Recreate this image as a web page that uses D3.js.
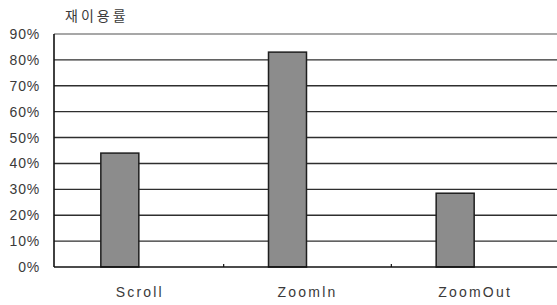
<!DOCTYPE html>
<html>
<head>
<meta charset="utf-8">
<script src="https://cdn.jsdelivr.net/npm/d3@7"></script>
<style>
  body { margin: 0; background: #fff; }
  text { font-family: "Liberation Sans", Arial, sans-serif; fill: #3a3a3a; }
</style>
</head>
<body>
<div id="container"></div>
<script>
const categories = ["Scroll", "ZoomIn", "ZoomOut"];
const labels = ["Scroll", "Zoomln", "ZoomOut"];
const values = [0.44, 0.83, 0.285];
const yTicks = [0, 0.1, 0.2, 0.3, 0.4, 0.5, 0.6, 0.7, 0.8, 0.9];
const title = "재이용률";

const width = 557, height = 305;
const margin = {top: 34, right: -2, bottom: 38, left: 56};

const svg = d3.select("#container").append("svg")
  .attr("width", width)
  .attr("height", height);

const x = d3.scaleBand()
  .domain(categories)
  .range([margin.left, width - margin.right])
  .padding(0);

const y = d3.scaleLinear()
  .domain([0, 0.9])
  .range([height - margin.bottom, margin.top]);

// gridlines
svg.append("g")
  .selectAll("line")
  .data(yTicks.filter(d => d > 0))
  .enter().append("line")
  .attr("x1", margin.left - 2)
  .attr("x2", width)
  .attr("y1", d => y(d))
  .attr("y2", d => y(d))
  .attr("stroke", d => d === 0.9 ? "#8a8a8a" : "#2e2e2e")
  .attr("stroke-width", 1.4);

// y labels
svg.append("g")
  .selectAll("text")
  .data(yTicks)
  .enter().append("text")
  .attr("x", 40)
  .attr("y", d => y(d))
  .attr("dy", "0.36em")
  .attr("text-anchor", "end")
  .style("font-size", "14px")
  .style("letter-spacing", "0.8px")
  .text(d3.format(".0%"));

// bars (offset left of band centre like the original)
const barW = 38, barShift = -20;
svg.append("g")
  .selectAll("rect")
  .data(values)
  .enter().append("rect")
  .attr("x", (d, i) => x(categories[i]) + x.bandwidth() / 2 + barShift - barW / 2)
  .attr("y", d => y(d))
  .attr("width", barW)
  .attr("height", d => y(0) - y(d))
  .attr("fill", "#8c8c8c")
  .attr("stroke", "#1e1e1e")
  .attr("stroke-width", 1.5);

// axes lines
svg.append("line")
  .attr("x1", margin.left - 2).attr("x2", margin.left - 2)
  .attr("y1", y(0.9)).attr("y2", y(0))
  .attr("stroke", "#111").attr("stroke-width", 1.6);

svg.append("line")
  .attr("x1", margin.left - 2).attr("x2", width)
  .attr("y1", y(0)).attr("y2", y(0))
  .attr("stroke", "#111").attr("stroke-width", 1.6);

// category ticks
svg.append("g")
  .selectAll("line")
  .data(categories.slice(1))
  .enter().append("line")
  .attr("x1", d => x(d)).attr("x2", d => x(d))
  .attr("y1", y(0) - 3).attr("y2", y(0))
  .attr("stroke", "#111").attr("stroke-width", 1.2);

// category labels
svg.append("g")
  .selectAll("text")
  .data(categories)
  .enter().append("text")
  .attr("x", d => x(d) + x.bandwidth() / 2)
  .attr("y", 292)
  .attr("dy", "0.36em")
  .attr("text-anchor", "middle")
  .style("font-size", "14px")
  .style("letter-spacing", "2.2px")
  .text((d, i) => labels[i]);

// title
svg.append("text")
  .attr("x", 65)
  .attr("y", 16)
  .attr("dy", "0.36em")
  .style("font-family", "'Noto Sans CJK KR', sans-serif")
  .style("font-size", "14px")
  .style("letter-spacing", "3px")
  .text(title);
</script>
</body>
</html>
